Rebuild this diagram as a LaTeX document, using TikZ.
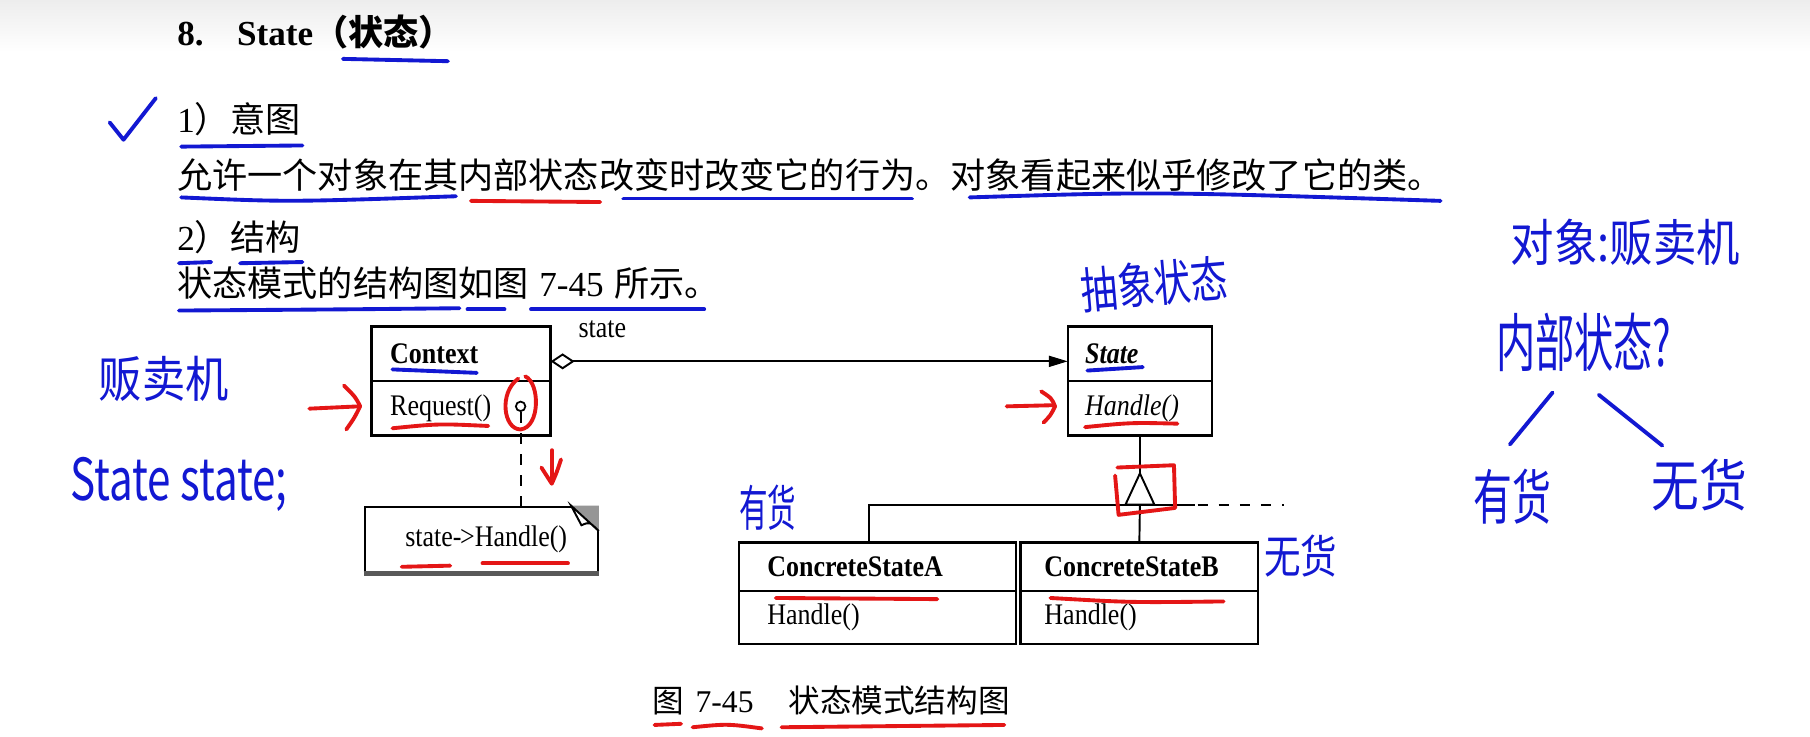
\documentclass[tikz,border=0pt]{standalone}
\usepackage{fontspec}
\setmainfont{Liberation Serif}
\newfontfamily\cjk{Noto Sans CJK SC}
\newfontfamily\umlfont[FakeStretch=0.87]{Liberation Serif}
\newfontfamily\hand{Noto Sans CJK SC}
\usetikzlibrary{arrows.meta,calc,positioning}
\definecolor{penblue}{RGB}{18,24,210}
\definecolor{penred}{RGB}{228,22,22}
\definecolor{foldgrey}{RGB}{150,150,150}
\tikzset{
  txt/.style={anchor=west,inner sep=0pt,font=\fontsize{10}{12}\selectfont},
  cname/.style={draw,line width=0.7pt,anchor=north west,align=left,outer sep=0pt,
    minimum height=5.43mm,inner ysep=0pt,
    font=\umlfont\bfseries\fontsize{8.5}{10}\selectfont},
  cop/.style={draw,line width=0.7pt,align=left,minimum height=5.43mm,outer sep=0pt,
    inner ysep=0pt,font=\umlfont\fontsize{8.5}{10}\selectfont},
  link/.style={line width=0.55pt},
  blueink/.style={draw=penblue,line width=1.1pt,line cap=round,line join=round},
  redink/.style={draw=penred,line width=1.1pt,line cap=round,line join=round},
  handnote/.style={inner sep=0pt,text=penblue}
}

\begin{document}
\begin{tikzpicture}[x=0.11543mm,y=-0.11543mm]
  \fill[white] (0,0) rectangle (1568,638);
  \shade[top color=black!7,bottom color=white] (0,0) rectangle (1568,45);
  \useasboundingbox (0,0) rectangle (1568,638);

  % printed text
  \node[txt,font=\bfseries\fontsize{10}{12}\selectfont] (title) at (153,28)
    {8.\hspace{0.95em}State{\cjk（状态）}};
  \node[txt] (intent) at (153,103) {1{\cjk）意图}};
  \node[txt] (intenttext) at (153,152)
    {\cjk 允许一个对象在其内部状态改变时改变它的行为。对象看起来似乎修改了它的类。};
  \node[txt] (struct) at (153,205) {2{\cjk）结构}};
  \node[txt] (structtext) at (153,245)
    {{\cjk 状态模式的结构图如图}\hspace{0.3em}7-45\hspace{0.3em}{\cjk 所示。}};

  % classes
  \node[cname,text width=14.19mm,inner xsep=1.85mm] (ctxname) at (322,283) {Context};
  \node[cop,text width=14.19mm,inner xsep=1.85mm,below=0pt of ctxname] (ctxop) {Request()};
  \node[cname,text width=10.97mm,inner xsep=1.73mm] (stname) at (925,283) {\itshape State};
  \node[cop,text width=10.97mm,inner xsep=1.73mm,below=0pt of stname] (stop) {\itshape Handle()};
  \node[cname,text width=22mm,inner xsep=2.85mm,minimum height=4.85mm] (csaname) at (640,470)
    {ConcreteStateA};
  \node[cop,text width=22mm,inner xsep=2.85mm,minimum height=5.31mm,below=0pt of csaname] (csaop)
    {Handle()};
  \node[cname,text width=18.98mm,inner xsep=2.4mm,minimum height=4.85mm] (csbname) at (884,470)
    {ConcreteStateB};
  \node[cop,text width=18.98mm,inner xsep=2.4mm,minimum height=5.31mm,below=0pt of csbname] (csbop)
    {Handle()};

  % note
  \node[draw,link,anchor=north west,minimum width=23.32mm,minimum height=6.58mm,
    font=\umlfont\fontsize{8.5}{10}\selectfont] (note) at (315,438)
    {\hspace{1mm}state{-}\kern-0.05em{>}Handle()};
  \draw[line width=1.5pt,black!65] (note.south west) -- (note.south east);
  \fill[foldgrey] ($(note.north east)+(-24,0)$) -- (note.north east)
    -- ($(note.north east)+(0,22)$) -- cycle;
  \draw[link,fill=white] ($(note.north east)+(-24,0)$) -- ($(note.north east)+(-15,17)$)
    .. controls ($(note.north east)+(-8,14)$) .. ($(note.north east)+(0,22)$) -- cycle;

  \node[circle,draw,line width=0.5pt,inner sep=0pt,minimum size=0.95mm] (reqdot) at (451,352) {};
  \draw[link,dashed] (reqdot) -- (reqdot |- note.north);

  % association
  \draw[link,{Diamond[open,length=2.4mm,width=1.6mm]}-{Triangle[length=1.9mm,width=1.1mm]}]
    ([yshift=-0.75mm]ctxname.east) --
    node[pos=0.1,above=1.1mm,font=\umlfont\fontsize{8.5}{10}\selectfont] (statelbl) {state}
    ([yshift=-0.75mm]stname.west);

  % inheritance
  \coordinate (apex) at ($(stop.south)+(0,33)$);
  \coordinate (junc) at ($(stop.south)+(0,60)$);
  \draw[link] (stop.south) -- (apex);
  \draw[link] ([xshift=-0.8mm]csaname.north) |- ($(junc)+(48,0)$);
  \draw[link,dashed] ($(junc)+(50,0)$) -- ($(junc)+(125,0)$);
  \draw[link] (junc) -- (csbname.north);
  \draw[link,fill=white] (apex) -- ($(junc)+(-12.5,0)$) -- ($(junc)+(12.5,0)$) -- cycle;

  % caption
  \node[txt,font=\fontsize{9}{11}\selectfont] (caption) at (565,607)
    {{\cjk 图}\hspace{0.35em}7-45\hspace{1.1em}{\cjk 状态模式结构图}};

  % blue pen strokes
  \draw[blueink] (297,51) -- (388,53);
  \draw[blueink] (95,106) -- (107,121) -- (135,85);
  \draw[blueink] (157,127) -- (262,126);
  \draw[blueink] (157,171) .. controls (250,175) .. (395,170);
  \draw[blueink] (540,172) -- (790,172);
  \draw[blueink] (840,171) .. controls (1000,166) .. (1248,174);
  \draw[blueink] (155,228) -- (183,227);
  \draw[blueink] (208,228) -- (262,227);
  \draw[blueink] (155,269) .. controls (300,268) .. (398,267);
  \draw[blueink] (405,268) -- (437,268);
  \draw[blueink] (460,268) -- (610,268);
  \draw[blueink] (340,320) -- (413,323);
  \draw[blueink] (942,321) -- (990,318);
  \draw[blueink] (1345,340) -- (1308,385);
  \draw[blueink] (1385,342) -- (1440,386);

  % red pen strokes
  \draw[redink] (408,174) -- (520,175);
  \draw[redink] (340,371) .. controls (380,367) .. (423,369);
  \draw[redink] (940,370) .. controls (980,366) .. (1020,367);
  \draw[redink] (672,518) -- (812,519);
  \draw[redink] (910,518) .. controls (980,522) .. (1060,521);
  \draw[redink] (348,491) -- (390,490);
  \draw[redink] (418,488) -- (492,488);
  \draw[redink] (567,628) -- (590,627);
  \draw[redink] (600,630) .. controls (630,627) .. (660,631);
  \draw[redink] (677,630) -- (870,628);
  \draw[redink] (268,354) -- (311,352);
  \draw[redink] (298,334) .. controls (308,344) .. (312,352) .. controls (307,362) .. (300,372);
  \draw[redink] (872,352) -- (913,351);
  \draw[redink] (902,339) .. controls (911,345) .. (914,352) .. controls (910,360) .. (904,366);
  \draw[redink] (478,390) -- (478,418);
  \draw[redink] (469,405) .. controls (474,412) .. (478,419) .. controls (482,410) .. (486,398);
  \draw[redink] (449,328) .. controls (432,340) and (436,372) .. (451,372)
    .. controls (468,370) and (468,332) .. (455,326);
  \draw[redink] (968,405) -- (1017,403) -- (1018,440) -- (969,446) -- (966,412);

  % handwritten notes
  \node[handnote,font=\hand\fontsize{14}{14}\selectfont,rotate=5] (absnote) at (1000,246)
    {\scalebox{0.75}[1]{抽象状态}};
  \node[handnote,font=\hand\fontsize{13}{13}\selectfont] (objnote) at (1408,210)
    {\scalebox{0.95}[1.1]{对象:贩卖机}};
  \node[handnote,font=\hand\fontsize{18}{18}\selectfont] (innernote) at (1372,297)
    {\scalebox{0.62}[1]{内部状态?}};
  \node[handnote,font=\hand\fontsize{17}{17}\selectfont] (havenote) at (1310,430)
    {\scalebox{0.65}[1]{有货}};
  \node[handnote,font=\hand\fontsize{16}{16}\selectfont] (nonenote) at (1472,420)
    {\scalebox{0.85}[1]{无货}};
  \node[handnote,font=\hand\fontsize{14}{14}\selectfont] (vendnote) at (142,328)
    {\scalebox{0.88}[1]{贩卖机}};
  \node[handnote,font=\hand\fontsize{15}{15}\selectfont] (fieldnote) at (155,420)
    {\scalebox{0.8}[1.1]{State state;}};
  \node[handnote,font=\hand\fontsize{14}{14}\selectfont] (csanote) at (665,440)
    {\scalebox{0.58}[1]{有货}};
  \node[handnote,font=\hand\fontsize{13}{13}\selectfont] (csbnote) at (1127,482)
    {\scalebox{0.8}[1]{无货}};
\end{tikzpicture}
\end{document}
